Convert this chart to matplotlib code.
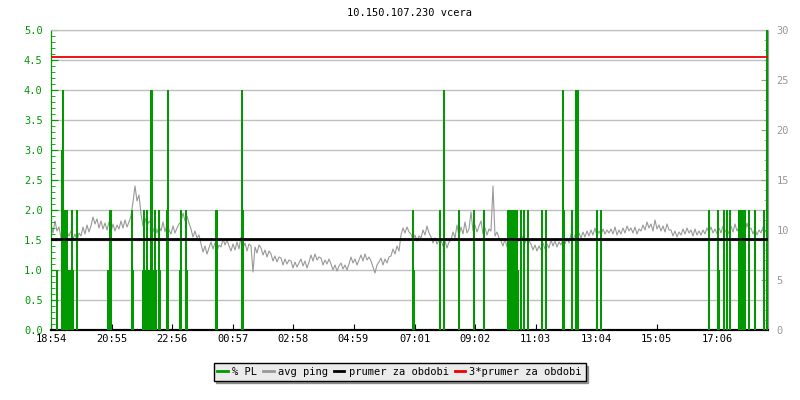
import matplotlib
matplotlib.use("Agg")
import matplotlib.pyplot as plt
from matplotlib.ticker import MultipleLocator, FixedLocator
from matplotlib.lines import Line2D
import numpy as np

plt.rcParams['font.family'] = ['DejaVu Sans Mono']

title = "10.150.107.230 vcera"

# time axis: minutes since 18:54, one sample every 4 minutes for ping
tick_minutes = [0, 121, 242, 363, 484, 605, 727, 848, 969, 1090, 1211, 1332]
tick_labels = ["18:54", "20:55", "22:56", "00:57", "02:58", "04:59",
               "07:01", "09:02", "11:03", "13:04", "15:05", "17:06"]
x_end = 1434

# avg ping [ms], sample every 4 minutes
ping = [
    10.6, 9.7, 10.9, 9.9, 10.3, 9.2, 10.1, 9.0, 9.8, 9.4,
    9.9, 9.1, 9.6, 8.9, 9.7, 9.4, 10.3, 9.6, 10.5, 9.8,
    10.4, 11.3, 10.6, 11.1, 10.2, 10.9, 10.1, 10.7, 10.0, 10.8,
    9.8, 10.6, 9.9, 10.5, 10.1, 10.9, 10.2, 11.0, 10.3, 10.8,
    11.4, 12.8, 14.4, 12.9, 13.5, 11.6, 10.4, 11.2, 10.3, 10.9,
    10.6, 9.8, 10.5, 9.7, 10.4, 9.9, 10.8, 9.8, 10.6, 10.0,
    9.6, 10.4, 9.7, 10.2, 10.6, 10.8, 11.7, 10.9, 11.4, 10.7,
    10.1, 9.3, 9.9, 9.2, 9.5, 8.6, 7.8, 8.4, 7.6, 8.2,
    8.8, 8.1, 8.7, 7.9, 8.5, 8.3, 9.1, 8.5, 9.0, 8.4,
    7.9, 8.6, 8.0, 8.8, 8.1, 9.3, 8.2, 8.7, 7.9, 8.6,
    8.4, 5.8, 8.3, 7.7, 8.5, 8.2, 7.5, 8.0, 7.3, 7.9,
    7.6, 6.9, 7.4, 6.8, 7.3, 7.2, 6.5, 7.1, 6.6, 7.0,
    6.9, 6.2, 6.8, 6.3, 6.7, 7.1, 6.4, 6.9, 6.2, 6.8,
    7.5, 6.9, 7.6, 7.0, 7.3, 7.2, 6.5, 7.0, 6.6, 7.1,
    6.6, 6.0, 6.5, 5.9, 6.4, 6.7, 6.1, 6.5, 6.0, 6.6,
    7.3, 6.7, 7.1, 6.5, 7.0, 7.5, 6.9, 7.6, 7.0, 7.3,
    6.9, 6.3, 5.7, 6.5, 6.8, 7.2, 6.5, 7.1, 6.7, 7.3,
    7.4, 8.1, 7.6, 8.4, 7.9, 9.5, 10.2, 9.7, 10.3, 9.8,
    9.6, 9.0, 9.5, 8.9, 9.4, 9.2, 10.0, 9.5, 10.4, 9.7,
    9.3, 8.7, 9.2, 8.6, 9.0, 9.0, 8.4, 8.9, 8.2, 8.8,
    9.0, 9.8, 9.2, 10.5, 9.4, 10.3, 9.6, 10.8, 9.7, 10.1,
    11.8, 9.9, 10.5, 9.8, 10.4, 10.9, 9.6, 10.2, 9.5, 10.1,
    9.9, 14.4, 9.4, 9.8, 9.2, 8.9, 8.4, 9.1, 8.3, 8.8,
    9.3, 8.7, 9.2, 8.6, 9.1, 8.8, 9.4, 8.7, 9.2, 8.9,
    8.6, 8.0, 8.5, 7.9, 8.4, 8.0, 8.7, 8.1, 8.6, 8.2,
    9.0, 8.4, 8.9, 8.3, 8.8, 8.5, 9.1, 8.6, 9.2, 8.7,
    9.6, 9.0, 9.5, 9.1, 9.7, 9.2, 9.8, 9.3, 9.9, 9.4,
    10.0, 9.5, 10.2, 9.4, 9.9, 9.5, 10.1, 9.6, 10.0, 9.7,
    10.1, 9.6, 10.3, 9.5, 10.0, 9.6, 10.2, 9.7, 10.4, 9.9,
    10.2, 9.7, 10.3, 9.6, 10.1, 9.9, 10.5, 10.0, 10.8, 10.2,
    10.6, 9.9, 11.0, 10.1, 10.5, 9.9, 10.4, 9.8, 10.6, 10.0,
    10.0, 9.4, 9.9, 9.3, 9.8, 9.5, 10.1, 9.6, 10.2, 9.7,
    10.0, 9.4, 10.1, 9.5, 9.9, 9.5, 10.0, 9.6, 10.2, 9.8,
    10.3, 9.7, 10.1, 9.6, 10.2, 9.7, 10.4, 9.8, 10.2, 9.6,
    10.4, 9.8, 10.6, 9.9, 10.3, 9.9, 10.5, 9.8, 10.7, 10.0,
    10.2, 9.6, 10.1, 9.5, 10.0, 9.7, 10.3, 9.8, 10.1,
]
ping_step = 4

# packet loss [%]: minute of the sample and value
pl_minutes = [12, 22, 24, 26, 28, 30, 32, 34, 36, 38, 42, 44, 52,
              114, 116, 118, 120, 162, 164, 184, 186, 188, 190, 192, 194,
              196, 198, 200, 202, 204, 208, 210, 216, 218, 232, 234,
              258, 260, 270, 272, 330, 332, 382, 384,
              724, 726, 778, 786, 816, 846, 866,
              914, 916, 918, 920, 922, 924, 926, 928, 930, 932, 934,
              940, 946, 954, 982, 990, 1024, 1026, 1042, 1050, 1052, 1054,
              1092, 1100, 1316, 1334, 1336, 1346, 1352, 1358,
              1376, 1378, 1380, 1382, 1384, 1386, 1388, 1396, 1408, 1426,
              1432, 1434]
pl_values = [1, 3, 4, 1, 2, 1, 2, 1, 1, 1, 2, 1, 2,
             1, 1, 2, 2, 2, 1, 1, 2, 1, 1, 2, 1,
             1, 1, 4, 4, 1, 2, 1, 2, 1, 2, 4,
             1, 2, 2, 1, 2, 2, 4, 2,
             2, 1, 2, 4, 2, 2, 2,
             2, 1, 2, 1, 2, 1, 2, 1, 2, 2, 1,
             2, 2, 2, 2, 2, 4, 2, 2, 4, 4, 4,
             2, 2, 2, 2, 1, 2, 2, 2,
             2, 1, 2, 2, 1, 2, 2, 2, 2, 2,
             5, 2.5]

prumer = 9.09  # ms

GREEN = "#009900"
GREY = "#999999"
GRID = "#c0c0c0"

fig = plt.figure(figsize=(8, 4), dpi=100)
ax2 = fig.add_axes([51/800, 70/400, 717/800, 300/400])
ax = ax2.twinx()
ax.yaxis.tick_left()
ax.yaxis.set_label_position("left")
ax2.yaxis.tick_right()
ax2.yaxis.set_label_position("right")

ping_x = np.arange(len(ping)) * ping_step
ax2.plot(ping_x, ping, color=GREY, lw=0.8, zorder=2)
ax2.set_ylim(0, 30)
ax2.set_xlim(0, x_end)

ax.vlines(pl_minutes, 0, pl_values, color=GREEN, lw=1.3,
          antialiased=False, zorder=3)
ax.axhline(prumer / 6, color="black", lw=2, zorder=4)
ax.axhline(3 * prumer / 6, color="#ee0000", lw=1.3, zorder=4)
ax.set_ylim(0, 5)
ax.set_xlim(0, x_end)

for g in np.arange(3, 31, 3):
    ax2.axhline(g, color=GRID, lw=1, zorder=1)

ax.yaxis.set_major_locator(MultipleLocator(0.5))
ax.yaxis.set_minor_locator(MultipleLocator(0.1))
ax.yaxis.set_major_formatter(matplotlib.ticker.FormatStrFormatter("%.1f"))
ax.tick_params(axis="y", which="major", direction="in", length=5,
               color=GREEN, labelcolor=GREEN, labelsize=7.5, pad=6)
ax.tick_params(axis="y", which="minor", direction="in", length=3,
               color=GREEN)

ax2.yaxis.set_major_locator(MultipleLocator(5))
ax2.yaxis.set_minor_locator(MultipleLocator(1))
ax2.tick_params(axis="y", which="major", direction="in", length=5,
                color=GREY, labelcolor=GREY, labelsize=7.5, pad=6)
ax2.tick_params(axis="y", which="minor", direction="in", length=3,
                color=GREY)

ax2.xaxis.set_major_locator(FixedLocator(tick_minutes))
ax2.set_xticklabels(tick_labels)
ax2.tick_params(axis="x", direction="in", length=4, color="black",
                labelsize=7.5, pad=3)
ax.tick_params(axis="x", which="both", bottom=False, labelbottom=False)

for a in (ax, ax2):
    a.spines["top"].set_color(GRID)
    a.spines["left"].set_color(GREEN)
    a.spines["right"].set_color(GREY)
    a.spines["bottom"].set_color("black")
    a.spines["bottom"].set_linewidth(1.5)

fig.text(0.512, 0.967, title, ha="center", va="center", fontsize=7.5)

handles = [
    Line2D([], [], color=GREEN, lw=2),
    Line2D([], [], color=GREY, lw=2),
    Line2D([], [], color="black", lw=2),
    Line2D([], [], color="#ee0000", lw=2),
]
labels = ["% PL", "avg ping", "prumer za obdobi", "3*prumer za obdobi"]
leg = fig.legend(handles, labels, loc="center", bbox_to_anchor=(0.4995, 0.07),
                 ncol=4, fontsize=7.5, frameon=True, fancybox=False,
                 shadow=True, handlelength=1.0, handletextpad=0.4,
                 columnspacing=0.6, borderpad=0.35, borderaxespad=0)
leg.get_frame().set_edgecolor("black")
leg.get_frame().set_facecolor("#ebebeb")
leg.get_frame().set_linewidth(1)

fig.savefig("out.png", dpi=100)
